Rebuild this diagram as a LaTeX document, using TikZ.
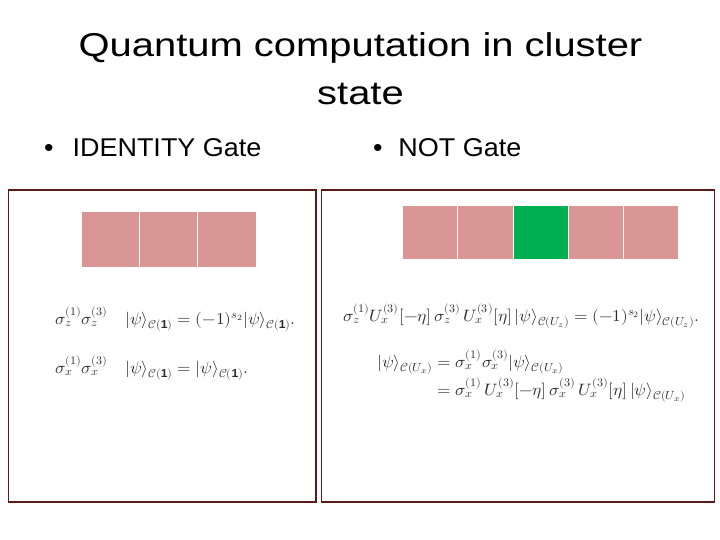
\documentclass[tikz,border=0pt]{standalone}
\usepackage{amsmath,amssymb}
\usepackage{fontspec}
\setmainfont{Liberation Sans}
\usepackage{unicode-math}
\setmathfont{Latin Modern Math}
\definecolor{pinkcell}{HTML}{D99694}
\definecolor{greencell}{HTML}{00B050}
\definecolor{frame}{HTML}{5C1A1A}
\definecolor{mathgray}{HTML}{2A2A2A}
\tikzset{
  panel/.style={draw=frame, line width=1.2pt},
  cell/.style={fill=pinkcell, draw=white, line width=0.8pt},
  gcell/.style={fill=greencell, draw=white, line width=0.8pt},
  ttl/.style={font=\fontsize{33}{38}\selectfont, anchor=base, text=black, inner sep=0, xscale=1.21},
  bul/.style={font=\fontsize{25.7}{28}\selectfont, anchor=base west, text=black, inner sep=0, xscale=1.05},
  eq/.style={anchor=base west, inner sep=0, text=mathgray, font=\fontsize{16.5}{19}\selectfont, xscale=1.05}
}
\begin{document}
\begin{tikzpicture}[x=1pt,y=-1pt]
\useasboundingbox (0,0) rectangle (720,540);
\node[ttl] (title1) at (360.5,57) {Quantum computation in cluster};
\node[ttl] (title2) at (360.5,105) {state};
\node[bul] (b1) at (44,157) {\textbullet\hspace{18pt}IDENTITY Gate};
\node[bul] (b2) at (373,157) {\textbullet\hspace{15pt}NOT Gate};
% panels
\draw[panel] (8.5,190) rectangle (316,502);
\draw[panel] (321.5,190) rectangle (714.5,502);
% left cells
\draw[cell] (81,211) rectangle (139,267);
\draw[cell] (139,211) rectangle (197,267);
\draw[cell] (197,211) rectangle (256,267);
% right cells
\draw[cell] (402,205) rectangle (457,259);
\draw[cell] (457,205) rectangle (513,259);
\draw[gcell] (513,205) rectangle (568,259);
\draw[cell] (568,205) rectangle (623,259);
\draw[cell] (623,205) rectangle (678,259);
% left equations
\node[eq] (e1) at (55,324) {$\sigma_z^{(1)}\sigma_z^{(3)}\quad |\psi\rangle_{\mathcal{C}(\mathbf{1})}=(-1)^{s_2}|\psi\rangle_{\mathcal{C}(\mathbf{1})}.$};
\node[eq] (e2) at (55,373) {$\sigma_x^{(1)}\sigma_x^{(3)}\quad |\psi\rangle_{\mathcal{C}(\mathbf{1})}=|\psi\rangle_{\mathcal{C}(\mathbf{1})}.$};
% right equations
\node[eq] (e3) at (343,321) {$\sigma_z^{(1)}U_x^{(3)}[-\eta]\,\sigma_z^{(3)}\,U_x^{(3)}[\eta]\,|\psi\rangle_{\mathcal{C}(U_z)}=(-1)^{s_2}|\psi\rangle_{\mathcal{C}(U_z)}.$};
\node[eq] (e4) at (377,367) {$|\psi\rangle_{\mathcal{C}(U_x)}=\sigma_x^{(1)}\sigma_x^{(3)}|\psi\rangle_{\mathcal{C}(U_x)}$};
\node[eq] (e5) at (437,395) {$=\sigma_x^{(1)}\,U_x^{(3)}[-\eta]\,\sigma_x^{(3)}\,U_x^{(3)}[\eta]\,|\psi\rangle_{\mathcal{C}(U_x)}$};
\end{tikzpicture}
\end{document}
